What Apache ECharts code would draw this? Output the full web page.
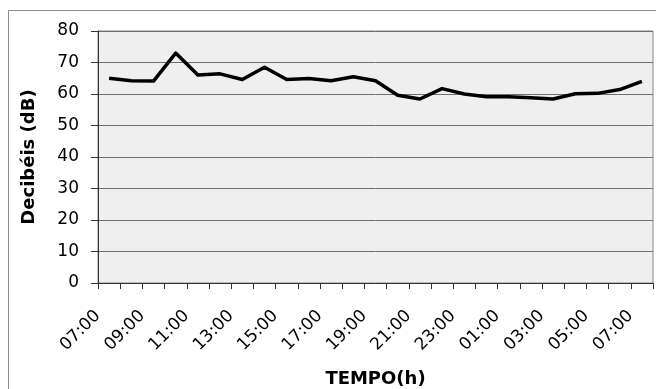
<!DOCTYPE html>
<html>
<head>
<meta charset="utf-8">
<script src="https://cdn.jsdelivr.net/npm/echarts@6/dist/echarts.min.js"></script>
<style>
  html, body { margin: 0; padding: 0; background: #ffffff; }
  #chart { width: 656px; height: 389px; }
</style>
</head>
<body>
<div id="chart"></div>
<script>
// Hourly readings over 24 hours
const hours = [
  '07:00', '08:00', '09:00', '10:00', '11:00', '12:00', '13:00', '14:00',
  '15:00', '16:00', '17:00', '18:00', '19:00', '20:00', '21:00', '22:00',
  '23:00', '00:00', '01:00', '02:00', '03:00', '04:00', '05:00', '06:00', '07:00'
];
const decibels = [
  65.0, 64.2, 64.1, 73.0, 66.0, 66.4, 64.6, 68.5,
  64.6, 64.9, 64.2, 65.5, 64.2, 59.6, 58.4, 61.7,
  60.0, 59.1, 59.1, 58.8, 58.4, 60.1, 60.2, 61.4, 64.0
];
const yTicks = { min: 0, max: 80, step: 10 };

const chart = echarts.init(document.getElementById('chart'), null, { renderer: 'canvas' });

chart.setOption({
  animation: false,
  backgroundColor: '#ffffff',
  textStyle: { fontFamily: 'DejaVu Sans' },
  graphic: [{
    type: 'rect',
    shape: { x: 8.5, y: 10.5, width: 700, height: 420 },
    style: { fill: 'none', stroke: '#8f8f8f', lineWidth: 1 },
    silent: true,
    z: -10
  }],
  grid: {
    left: 98, right: 3, top: 31, bottom: 106,
    containLabel: false,
    outerBoundsMode: 'none',
    show: true,
    backgroundColor: '#efefef',
    borderColor: '#888888',
    borderWidth: 1
  },
  xAxis: {
    type: 'category',
    data: hours,
    boundaryGap: true,
    name: 'TEMPO(h)',
    nameLocation: 'middle',
    nameGap: 87,
    nameTextStyle: { fontFamily: 'DejaVu Sans', fontWeight: 'bold', fontSize: 18, color: '#000' },
    axisLine: { show: true, lineStyle: { color: '#333', width: 1 } },
    axisTick: { show: true, interval: 0, length: 6, lineStyle: { color: '#333' } },
    axisLabel: {
      interval: 1,
      rotate: 45,
      margin: 19,
      padding: [0, 16, 0, 0],
      fontFamily: 'DejaVu Sans',
      fontSize: 17,
      color: '#000'
    },
    splitLine: { show: false }
  },
  yAxis: {
    type: 'value',
    min: yTicks.min,
    max: yTicks.max,
    interval: yTicks.step,
    name: 'Decibéis (dB)',
    nameLocation: 'middle',
    nameGap: 60,
    nameTextStyle: { fontFamily: 'DejaVu Sans', fontWeight: 'bold', fontSize: 18, color: '#000' },
    axisLine: { show: true, lineStyle: { color: '#333', width: 1 } },
    axisTick: { show: true, length: 7, lineStyle: { color: '#333' } },
    axisLabel: { margin: 19, fontFamily: 'DejaVu Sans', fontSize: 17, color: '#000' },
    splitLine: { show: true, lineStyle: { color: '#707070', width: 1 } }
  },
  series: [{
    type: 'line',
    data: decibels,
    symbol: 'none',
    smooth: false,
    lineStyle: { color: '#000000', width: 3.5, join: 'round' }
  }]
});
</script>
</body>
</html>
